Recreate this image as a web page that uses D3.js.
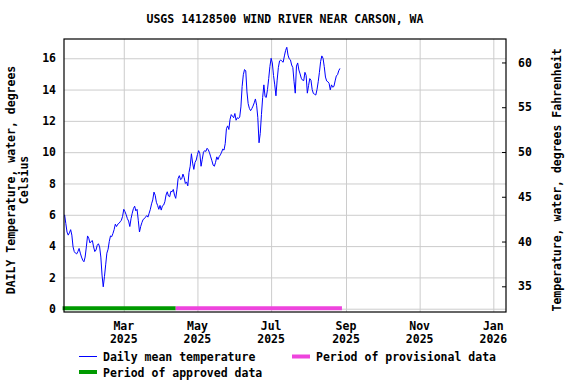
<!DOCTYPE html>
<html>
<head>
<meta charset="utf-8">
<script src="https://cdn.jsdelivr.net/npm/d3@7"></script>
<style>
  body { margin: 0; background: #fff; }
  svg text { font-family: "DejaVu Sans Mono", monospace; font-weight: bold; font-size: 11.5px; fill: #000; }
</style>
</head>
<body>
<svg id="chart" width="576" height="384"></svg>
<script>
// ---- data ----
const chartTitle = "USGS 14128500 WIND RIVER NEAR CARSON, WA";
const firstDay = new Date(2025, 0, 11);

// daily mean water temperature, deg C, one value per day from Jan 11 2025
const tempJanToMar = [
  6.0, 5.45, 4.9, 4.7, 4.85, 5.05, 4.7, 3.95, 3.65, 3.55,
  3.5, 3.65, 3.85, 3.55, 3.3, 3.1, 3.0, 3.3, 3.95, 4.65,
  4.5, 4.2, 4.3, 4.35, 3.95, 3.65, 3.75, 4.05, 4.15, 3.95,
  3.3, 2.15, 1.4, 2.05, 2.8, 3.55, 3.8, 4.3, 4.65, 4.6,
  4.8, 5.05, 5.4, 5.25, 5.4, 5.45, 5.55, 5.65, 5.9, 6.35,
  6.2, 6.0, 5.75, 5.6, 5.25, 5.75, 6.1, 6.4, 6.55, 6.25,
  6.35, 5.65, 4.9, 5.25, 5.5, 5.7, 5.75, 5.85, 5.95, 5.85,
  6.1, 6.35, 6.7, 6.95, 7.45, 7.25, 6.8, 6.6, 6.35, 6.6, 6.3
];
const tempAprToJun = [
  6.57, 6.62, 6.83, 7.26, 7.47, 7.2, 7.15, 7.5, 7.47, 7.62,
  7.26, 7.05, 7.6, 8.32, 8.5, 8.25, 8.3, 8.6, 8.38, 8.0,
  8.1, 7.85, 8.7, 9.1, 9.9, 9.3, 8.9, 9.35, 9.5, 9.85,
  10.1, 9.9, 9.1, 9.55, 10.0, 10.1, 10.05, 10.25, 10.15, 9.96,
  9.7, 9.45, 9.17, 9.1, 9.35, 9.7, 9.53, 9.72, 9.83, 10.0,
  10.2, 10.13, 10.55, 11.5, 11.68, 11.45, 12.1, 12.4, 12.3, 12.2,
  12.47, 12.04, 12.2, 12.15, 12.25, 12.89, 14.2, 14.95, 15.28, 15.2,
  13.85, 13.1, 12.8, 12.65, 12.78, 12.94, 13.15
];
const tempJunToAug = [
  13.4, 13.0, 12.2, 10.6, 11.2, 12.4, 13.5, 14.3, 13.55, 13.5,
  14.0, 14.7, 15.47, 16.0, 15.7, 14.9, 14.3, 13.6, 14.6, 15.4,
  15.83, 15.89, 15.8, 15.75, 16.15, 16.5, 16.7, 16.2, 15.96, 15.9,
  15.57, 15.4, 14.5, 13.77, 15.5, 15.7, 15.25, 15.0, 14.72, 14.6,
  14.57, 15.1, 14.9, 13.77, 14.25, 14.7, 14.6, 14.0, 13.75, 13.7,
  13.65, 14.0, 14.5, 15.1, 15.8, 16.15, 16.0, 15.47, 14.8, 14.55,
  14.5, 14.4, 13.98, 14.3, 14.15, 14.2, 14.55, 14.87, 14.95, 15.2,
  15.35
];

const approvedPeriod = [new Date(2025, 0, 11), new Date(2025, 3, 13)];
const provisionalPeriod = [new Date(2025, 3, 13), new Date(2025, 7, 27)];

const celsiusTicks = [0, 2, 4, 6, 8, 10, 12, 14, 16];
const fahrenheitTicks = [35, 40, 45, 50, 55, 60];
const monthTicks = [new Date(2025, 2, 1), new Date(2025, 4, 1), new Date(2025, 6, 1),
                    new Date(2025, 8, 1), new Date(2025, 10, 1), new Date(2026, 0, 1)];
const monthNames = ["Mar", "May", "Jul", "Sep", "Nov", "Jan"];
const monthYears = ["2025", "2025", "2025", "2025", "2025", "2026"];

const legendItems = ["Daily mean temperature", "Period of provisional data", "Period of approved data"];

// ---- drawing ----
const plotL = 64, plotR = 506, plotT = 39, plotB = 312;
const blue = "#0000ff", green = "#009a00", pink = "#ee44dd", grid = "#cccccc";

const svg = d3.select("#chart");
svg.append("rect").attr("width", 576).attr("height", 384).attr("fill", "#fff");

const x = d3.scaleTime()
  .domain([new Date(2025, 0, 10, 12), new Date(2026, 0, 11, 12)])
  .range([plotL, plotR]);
const y = d3.scaleLinear().domain([-0.21, 17.23]).range([plotB, plotT]);
const yF = d3.scaleLinear().domain([32.13, 62.62]).range([plotB, plotT]);

const series = tempJanToMar.concat(tempAprToJun, tempJunToAug)
  .map((v, i) => ({ date: d3.timeDay.offset(firstDay, i), value: v }));

// gridlines + left labels
const gLeft = svg.append("g").attr("transform", `translate(${plotL},0)`)
  .call(d3.axisLeft(y).tickValues(celsiusTicks).tickSize(-(plotR - plotL)).tickPadding(8));
gLeft.select(".domain").remove();
gLeft.selectAll(".tick line").attr("stroke", grid);

const gBottom = svg.append("g").attr("transform", `translate(0,${plotB})`)
  .call(d3.axisBottom(x).tickValues(monthTicks).tickSize(-(plotB - plotT)).tickFormat(""));
gBottom.select(".domain").remove();
gBottom.selectAll(".tick line").attr("stroke", grid);

monthTicks.forEach((d, i) => {
  const t = svg.append("text").attr("text-anchor", "middle")
    .attr("transform", `translate(${x(d)},330)`);
  t.append("tspan").attr("x", 0).attr("dy", 0).text(monthNames[i]);
  t.append("tspan").attr("x", 0).attr("dy", 13).text(monthYears[i]);
});

// right axis (Fahrenheit)
const gRight = svg.append("g").attr("transform", `translate(${plotR},0)`)
  .call(d3.axisRight(yF).tickValues(fahrenheitTicks).tickSize(-4).tickPadding(12));
gRight.select(".domain").remove();
gRight.selectAll(".tick line").attr("stroke", "#000");
gRight.selectAll(".tick text").attr("text-anchor", "start");

// approval period bars along zero
const barY = y(0) - 0.5;
svg.append("line")
  .attr("x1", x(approvedPeriod[0]) - 2).attr("x2", x(approvedPeriod[1]))
  .attr("y1", barY).attr("y2", barY)
  .attr("stroke", green).attr("stroke-width", 4);
svg.append("line")
  .attr("x1", x(provisionalPeriod[0])).attr("x2", x(provisionalPeriod[1]) + 2)
  .attr("y1", barY).attr("y2", barY)
  .attr("stroke", pink).attr("stroke-width", 4);

// temperature line
svg.append("path").datum(series)
  .attr("fill", "none").attr("stroke", blue).attr("stroke-width", 1)
  .attr("d", d3.line().x(d => x(d.date)).y(d => y(d.value)));

// frame
svg.append("rect").attr("x", plotL).attr("y", plotT)
  .attr("width", plotR - plotL).attr("height", plotB - plotT)
  .attr("fill", "none").attr("stroke", "#000").attr("stroke-width", 1.2);

// title
svg.append("text").attr("x", 285).attr("y", 23).attr("text-anchor", "middle").text(chartTitle);

// axis titles
svg.append("text").attr("text-anchor", "middle")
  .attr("transform", "translate(15,180) rotate(-90)")
  .text("DAILY Temperature, water, degrees");
svg.append("text").attr("text-anchor", "middle")
  .attr("transform", "translate(28,180) rotate(-90)")
  .text("Celsius");
svg.append("text").attr("text-anchor", "middle")
  .attr("transform", "translate(561,180) rotate(-90)")
  .text("Temperature, water, degrees Fahrenheit");

// legend
svg.append("line").attr("x1", 79).attr("x2", 97).attr("y1", 356.5).attr("y2", 356.5)
  .attr("stroke", blue).attr("stroke-width", 1);
svg.append("text").attr("x", 103).attr("y", 357).attr("dy", "0.35em").text(legendItems[0]);
svg.append("rect").attr("x", 292).attr("y", 354.5).attr("width", 18).attr("height", 4).attr("fill", pink);
svg.append("text").attr("x", 316).attr("y", 357).attr("dy", "0.35em").text(legendItems[1]);
svg.append("rect").attr("x", 79).attr("y", 370).attr("width", 18).attr("height", 4).attr("fill", green);
svg.append("text").attr("x", 103).attr("y", 373).attr("dy", "0.35em").text(legendItems[2]);
</script>
</body>
</html>
